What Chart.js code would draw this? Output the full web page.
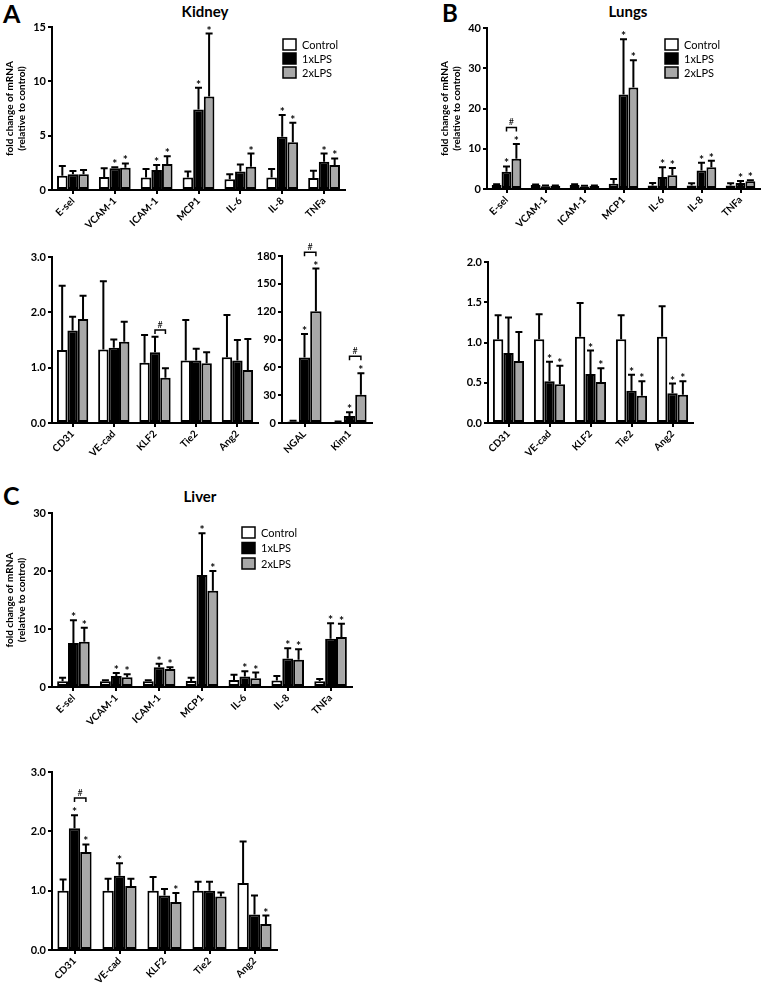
<!DOCTYPE html>
<html>
<head>
<meta charset="utf-8">
<script src="https://cdn.jsdelivr.net/npm/chart.js@4.4.0/dist/chart.umd.min.js"></script>
<style>
    body { margin: 0; background: #fff; width: 770px; height: 988px; position: relative; overflow: hidden; font-family: Lato, sans-serif; }
    canvas { position: absolute; }
    .txt { position: absolute; font-weight: bold; color: #000; line-height: 1; white-space: nowrap; }
    .ttl { width: 120px; text-align: center; font-size: 15px; }
</style>
</head>
<body>
<div class="txt" style="left:3px; top:1px; font-size:25px;">A</div>
<div class="txt ttl" style="left:145px; top:4px;">Kidney</div>
<div class="txt" style="left:442px; top:1px; font-size:24px;">B</div>
<div class="txt ttl" style="left:568px; top:4px;">Lungs</div>
<div class="txt" style="left:3px; top:483px; font-size:25px;">C</div>
<div class="txt ttl" style="left:140px; top:489px;">Liver</div>

<script>
/*
    Fold change of mRNA per organ, three groups: Control, 1xLPS, 2xLPS.
    Bars are means, errors are the top of the error bar.
*/

let seriesNames = ['Control', '1xLPS', '2xLPS'];
let seriesColors = ['#ffffff', '#000000', '#a8a8a8'];

let inflamGenes = ['E-sel', 'VCAM-1', 'ICAM-1', 'MCP1', 'IL-6', 'IL-8', 'TNFa'];
let endoGenes = ['CD31', 'VE-cad', 'KLF2', 'Tie2', 'Ang2'];
let injuryGenes = ['NGAL', 'Kim1'];

// A - Kidney, inflammation
let kidInfCtrl = [1.3, 1.2, 1.15, 1.15, 1.0, 1.15, 1.1];
let kidInfCtrlErr = [2.2, 2.0, 1.93, 1.7, 1.45, 1.93, 1.77];
let kidInf1x = [1.45, 2.0, 1.83, 7.4, 1.7, 4.9, 2.6];
let kidInf1xErr = [1.75, 2.1, 2.3, 9.4, 2.35, 6.9, 3.35];
let kidInf2x = [1.45, 2.05, 2.4, 8.6, 2.15, 4.4, 2.3];
let kidInf2xErr = [1.85, 2.45, 3.1, 14.4, 3.35, 6.2, 2.9];
let kidInf1xStar = [0, 1, 1, 1, 0, 1, 1];
let kidInf2xStar = [0, 1, 1, 1, 1, 1, 1];

// A - Kidney, endothelial
let kidEndCtrl = [1.32, 1.33, 1.09, 1.13, 1.19];
let kidEndCtrlErr = [2.48, 2.56, 1.59, 1.86, 1.95];
let kidEnd1x = [1.67, 1.36, 1.28, 1.13, 1.13];
let kidEnd1xErr = [1.92, 1.51, 1.56, 1.34, 1.5];
let kidEnd2x = [1.88, 1.47, 0.82, 1.08, 0.96];
let kidEnd2xErr = [2.3, 1.83, 0.99, 1.28, 1.52];

// A - Kidney, injury markers
let kidInjCtrl = [1.5, 1.0];
let kidInjCtrlErr = [2.5, 1.5];
let kidInj1x = [70.5, 7.5];
let kidInj1xErr = [96, 11.5];
let kidInj2x = [120.5, 30.5];
let kidInj2xErr = [166.5, 53.5];
let kidInj1xStar = [1, 1];
let kidInj2xStar = [1, 1];

// B - Lungs, inflammation
let lungInfCtrl = [1.0, 1.0, 1.0, 1.3, 0.9, 0.9, 0.9];
let lungInfCtrlErr = [1.2, 1.1, 1.15, 2.5, 1.5, 1.4, 1.4];
let lungInf1x = [4.3, 0.7, 0.6, 23.5, 3.0, 4.6, 1.5];
let lungInf1xErr = [5.6, 0.85, 0.8, 37.2, 5.4, 6.5, 2.0];
let lungInf2x = [7.5, 0.8, 0.75, 25.2, 3.4, 5.4, 1.9];
let lungInf2xErr = [11.2, 0.9, 0.9, 32.0, 5.2, 7.0, 2.2];
let lungInf1xStar = [1, 0, 0, 1, 1, 1, 1];
let lungInf2xStar = [1, 0, 0, 1, 1, 1, 1];

// B - Lungs, endothelial
let lungEndCtrl = [1.04, 1.04, 1.07, 1.04, 1.07];
let lungEndCtrlErr = [1.34, 1.35, 1.49, 1.34, 1.45];
let lungEnd1x = [0.87, 0.52, 0.61, 0.40, 0.37];
let lungEnd1xErr = [1.31, 0.76, 0.90, 0.60, 0.49];
let lungEnd2x = [0.77, 0.48, 0.51, 0.34, 0.35];
let lungEnd2xErr = [1.13, 0.71, 0.68, 0.52, 0.52];
let lungEnd1xStar = [0, 1, 1, 1, 1];
let lungEnd2xStar = [0, 1, 1, 1, 1];

// C - Liver, inflammation
let livInfCtrl = [1.0, 1.0, 1.0, 1.05, 1.2, 1.1, 1.0];
let livInfCtrlErr = [1.6, 1.15, 1.15, 1.6, 2.1, 1.9, 1.4];
let livInf1x = [7.6, 1.9, 3.4, 19.3, 1.8, 4.9, 8.3];
let livInf1xErr = [11.5, 2.4, 4.0, 26.5, 2.7, 6.7, 11.0];
let livInf2x = [7.8, 1.7, 3.1, 16.6, 1.5, 4.7, 8.6];
let livInf2xErr = [10.2, 2.2, 3.4, 20.0, 2.5, 6.5, 10.9];
let livInf1xStar = [1, 1, 1, 1, 1, 1, 1];
let livInf2xStar = [1, 1, 1, 1, 1, 1, 1];

// C - Liver, endothelial
let livEndCtrl = [1.0, 1.0, 1.0, 1.0, 1.13];
let livEndCtrlErr = [1.19, 1.2, 1.23, 1.15, 1.83];
let livEnd1x = [2.05, 1.25, 0.92, 1.0, 0.6];
let livEnd1xErr = [2.27, 1.46, 1.03, 1.15, 0.92];
let livEnd2x = [1.65, 1.08, 0.81, 0.9, 0.44];
let livEnd2xErr = [1.78, 1.2, 0.96, 0.97, 0.58];
let livEnd1xStar = [1, 1, 0, 0, 0];
let livEnd2xStar = [1, 0, 1, 0, 1];

Chart.defaults.font.family = 'Lato, sans-serif';

// error bars, stars, # brackets and the boxed legend
const extras = {
    id: 'extras',
    afterDatasetsDraw(chart, args, opts) {
        let ctx = chart.ctx;
        let yScale = chart.scales.y;
        ctx.save();
        ctx.strokeStyle = '#000';
        ctx.fillStyle = '#000';
        chart.data.datasets.forEach((ds, di) => {
            let meta = chart.getDatasetMeta(di);
            meta.data.forEach((bar, i) => {
                let top = yScale.getPixelForValue(ds.errors[i]);
                ctx.lineWidth = 2;
                ctx.beginPath();
                ctx.moveTo(bar.x, bar.y);
                ctx.lineTo(bar.x, top);
                ctx.moveTo(bar.x - 3.5, top);
                ctx.lineTo(bar.x + 3.5, top);
                ctx.stroke();
                if (ds.stars && ds.stars[i]) {
                    ctx.font = 'bold 12px Lato';
                    ctx.textAlign = 'center';
                    ctx.textBaseline = 'alphabetic';
                    ctx.fillText('*', bar.x, top + 1);
                }
            });
        });
        for (const b of opts.brackets) {
            let x1 = chart.getDatasetMeta(b.from).data[b.cat].x;
            let x2 = chart.getDatasetMeta(b.to).data[b.cat].x;
            let yy = yScale.getPixelForValue(b.value);
            ctx.lineWidth = 1.5;
            ctx.beginPath();
            ctx.moveTo(x1, yy + 4);
            ctx.lineTo(x1, yy);
            ctx.lineTo(x2, yy);
            ctx.lineTo(x2, yy + 4);
            ctx.stroke();
            ctx.font = '9px Lato';
            ctx.textAlign = 'center';
            ctx.textBaseline = 'alphabetic';
            ctx.fillText('#', (x1 + x2) / 2, yy - 2);
        }
        if (opts.legendAt) {
            chart.data.datasets.forEach((ds, di) => {
                let lx = opts.legendAt.x;
                let ly = opts.legendAt.y + di * opts.legendStep;
                ctx.fillStyle = ds.backgroundColor;
                ctx.fillRect(lx, ly, 13, 11);
                ctx.lineWidth = 1.5;
                ctx.strokeRect(lx, ly, 13, 11);
                ctx.fillStyle = '#000';
                ctx.font = '11px Lato';
                ctx.textAlign = 'left';
                ctx.textBaseline = 'middle';
                ctx.fillText(ds.label, lx + 19, ly + 6);
            });
        }
        ctx.restore();
    }
};

function buildDatasets(means, errors, stars) {
    let sets = [];
    for (let i = 0; i < 3; i++) {
        sets.push({
            label: seriesNames[i],
            data: means[i],
            errors: errors[i],
            stars: stars[i],
            backgroundColor: seriesColors[i],
            borderColor: '#000',
            borderWidth: 2,
            borderSkipped: false,
            categoryPercentage: 0.76,
            barPercentage: 1.0
        });
    }
    return sets;
}

function makePanel(p) {
    const padLeft = 52, padTop = 24, padRight = 12, padBottom = 62;
    let left = p.x - padLeft;
    let top = p.y - padTop;
    let canvas = document.createElement('canvas');
    canvas.width = padLeft + p.w + padRight;
    canvas.height = padTop + p.h + padBottom;
    canvas.style.left = left + 'px';
    canvas.style.top = top + 'px';
    document.body.appendChild(canvas);

    new Chart(canvas.getContext('2d'), {
        type: 'bar',
        data: {
            labels: p.labels,
            datasets: buildDatasets(p.means, p.errors, p.stars)
        },
        options: {
            responsive: false,
            animation: false,
            devicePixelRatio: 1,
            layout: { padding: { top: padTop, right: padRight, left: 0, bottom: 0 } },
            plugins: {
                legend: { display: false },
                tooltip: { enabled: false },
                extras: {
                    brackets: p.brackets || [],
                    legendAt: p.legendAt ? { x: p.legendAt.x - left, y: p.legendAt.y - top } : null,
                    legendStep: p.legendStep || 14
                }
            },
            scales: {
                x: {
                    grid: { offset: false, drawOnChartArea: false, tickLength: 4, color: '#000', lineWidth: 2 },
                    border: { color: '#000', width: 2 },
                    ticks: { autoSkip: false, minRotation: 45, maxRotation: 45, padding: 1, color: '#000',
                             font: { size: 10, weight: 'bold' } },
                    afterFit(s) { s.height = padBottom; s.paddingLeft = 0; s.paddingRight = 0; }
                },
                y: {
                    min: 0,
                    max: p.max,
                    ticks: { stepSize: p.step, color: '#000', padding: 2, font: { size: 11, weight: 'bold' },
                             callback: v => v.toFixed(p.dec) },
                    grid: { drawOnChartArea: false, tickLength: 4, color: '#000', lineWidth: 2 },
                    border: { color: '#000', width: 2 },
                    title: {
                        display: !!p.yTitle,
                        text: ['fold change of mRNA', '(relative to control)'],
                        color: '#000',
                        font: { size: 10, weight: 'bold' },
                        padding: { top: 4, bottom: 0 }
                    },
                    afterFit(s) { s.width = padLeft; s.paddingTop = 0; s.paddingBottom = 0; }
                }
            }
        },
        plugins: [extras]
    });
}

window.onload = function () {
    makePanel({
        x: 52, y: 27, w: 293, h: 163, labels: inflamGenes, max: 15, step: 5, dec: 0, yTitle: true,
        means: [kidInfCtrl, kidInf1x, kidInf2x],
        errors: [kidInfCtrlErr, kidInf1xErr, kidInf2xErr],
        stars: [null, kidInf1xStar, kidInf2xStar],
        legendAt: { x: 283, y: 39 }, legendStep: 14
    });
    makePanel({
        x: 52, y: 257, w: 206, h: 166, labels: endoGenes, max: 3, step: 1, dec: 1,
        means: [kidEndCtrl, kidEnd1x, kidEnd2x],
        errors: [kidEndCtrlErr, kidEnd1xErr, kidEnd2xErr],
        stars: [null, null, null],
        brackets: [{ cat: 2, from: 1, to: 2, value: 1.68 }]
    });
    makePanel({
        x: 282, y: 256, w: 90, h: 167, labels: injuryGenes, max: 180, step: 30, dec: 0,
        means: [kidInjCtrl, kidInj1x, kidInj2x],
        errors: [kidInjCtrlErr, kidInj1xErr, kidInj2xErr],
        stars: [null, kidInj1xStar, kidInj2xStar],
        brackets: [{ cat: 0, from: 1, to: 2, value: 184 }, { cat: 1, from: 1, to: 2, value: 72 }]
    });
    makePanel({
        x: 487, y: 28, w: 273, h: 161, labels: inflamGenes, max: 40, step: 10, dec: 0, yTitle: true,
        means: [lungInfCtrl, lungInf1x, lungInf2x],
        errors: [lungInfCtrlErr, lungInf1xErr, lungInf2xErr],
        stars: [null, lungInf1xStar, lungInf2xStar],
        brackets: [{ cat: 0, from: 1, to: 2, value: 15.3 }],
        legendAt: { x: 665, y: 39 }, legendStep: 14
    });
    makePanel({
        x: 488, y: 262, w: 205, h: 161, labels: endoGenes, max: 2, step: 0.5, dec: 1,
        means: [lungEndCtrl, lungEnd1x, lungEnd2x],
        errors: [lungEndCtrlErr, lungEnd1xErr, lungEnd2xErr],
        stars: [null, lungEnd1xStar, lungEnd2xStar]
    });
    makePanel({
        x: 52, y: 513, w: 300, h: 174, labels: inflamGenes, max: 30, step: 10, dec: 0, yTitle: true,
        means: [livInfCtrl, livInf1x, livInf2x],
        errors: [livInfCtrlErr, livInf1xErr, livInf2xErr],
        stars: [null, livInf1xStar, livInf2xStar],
        legendAt: { x: 242, y: 527 }, legendStep: 15.5
    });
    makePanel({
        x: 52, y: 772, w: 225, h: 178, labels: endoGenes, max: 3, step: 1, dec: 1,
        means: [livEndCtrl, livEnd1x, livEnd2x],
        errors: [livEndCtrlErr, livEnd1xErr, livEnd2xErr],
        stars: [null, livEnd1xStar, livEnd2xStar],
        brackets: [{ cat: 0, from: 1, to: 2, value: 2.56 }]
    });
};
</script>
</body>
</html>
